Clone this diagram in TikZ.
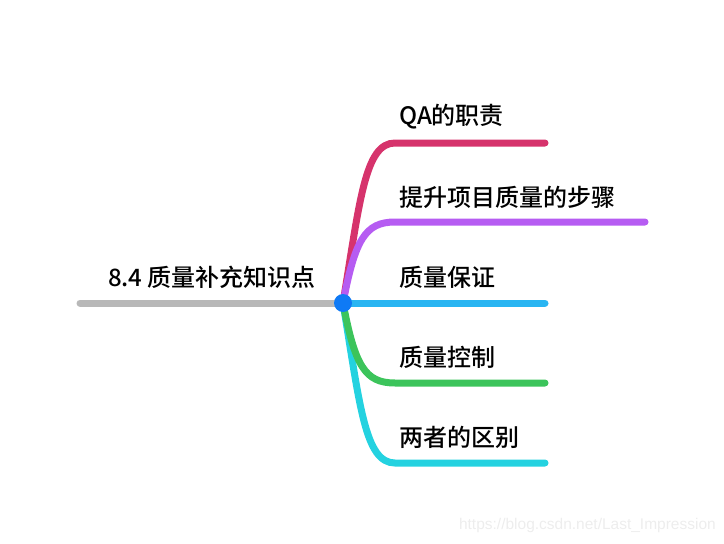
\documentclass[tikz,border=0pt]{standalone}
\usepackage{fontspec}
\newfontfamily\cjk{Noto Sans CJK SC}[UprightFont=* Medium]
\newfontfamily\wmfont{Liberation Sans}
\definecolor{rootgray}{HTML}{B8B8B8}
\definecolor{dotblue}{HTML}{0F7AF5}
\definecolor{qared}{HTML}{D6336C}
\definecolor{steppurple}{HTML}{B65CF2}
\definecolor{assblue}{HTML}{29B5F2}
\definecolor{ctrlgreen}{HTML}{3CC45B}
\definecolor{diffcyan}{HTML}{24D2E0}
\begin{document}
\begin{tikzpicture}[x=1pt, y=-1pt,
	branch/.style={line width=7pt, line cap=round},
	label/.style={anchor=west, inner sep=0pt, font=\cjk\fontsize{24}{24}\selectfont}]
	\useasboundingbox (0,0) rectangle (724,544);
	
	\coordinate (g) at (80, 303);
	\coordinate (e1) at (545, 143);
	\coordinate (e2) at (645, 222);
	\coordinate (e3) at (545, 303);
	\coordinate (e4) at (545, 383);
	\coordinate (e5) at (545, 463);
	
	\node[label, anchor=center] (root) at (212, 277) {8.4 质量补充知识点};
	\node[label] (t1) at (399, 117) {QA的职责};
	\node[label] (t2) at (399, 197) {提升项目质量的步骤};
	\node[label] (t3) at (399, 277) {质量保证};
	\node[label] (t4) at (399, 357) {质量控制};
	\node[label] (t5) at (399, 437) {两者的区别};
	
	\draw[branch, rootgray] (g) -- (343, 303) coordinate (c);
	
	\draw[branch, diffcyan] (c) .. controls (360, 406) and (365, 463) .. (395, 463) -- (e5);
	\draw[branch, ctrlgreen] (c) .. controls (355, 366) and (365, 383) .. (395, 383) -- (e4);
	\draw[branch, qared] (c) .. controls (360, 200) and (365, 143) .. (395, 143) -- (e1);
	\draw[branch, steppurple] (c) .. controls (355, 240) and (365, 222) .. (395, 222) -- (e2);
	\draw[branch, assblue] (c) -- (e3);
	
	\node[circle, fill=dotblue, minimum size=18pt, inner sep=0pt] (dot) at (c) {};
	
	\node[anchor=east, inner sep=0pt, text=black!7, font=\wmfont\fontsize{15.5}{15.5}\selectfont] (wm) at (716, 525) {https://blog.csdn.net/Last\_Impression};
\end{tikzpicture}
\end{document}
